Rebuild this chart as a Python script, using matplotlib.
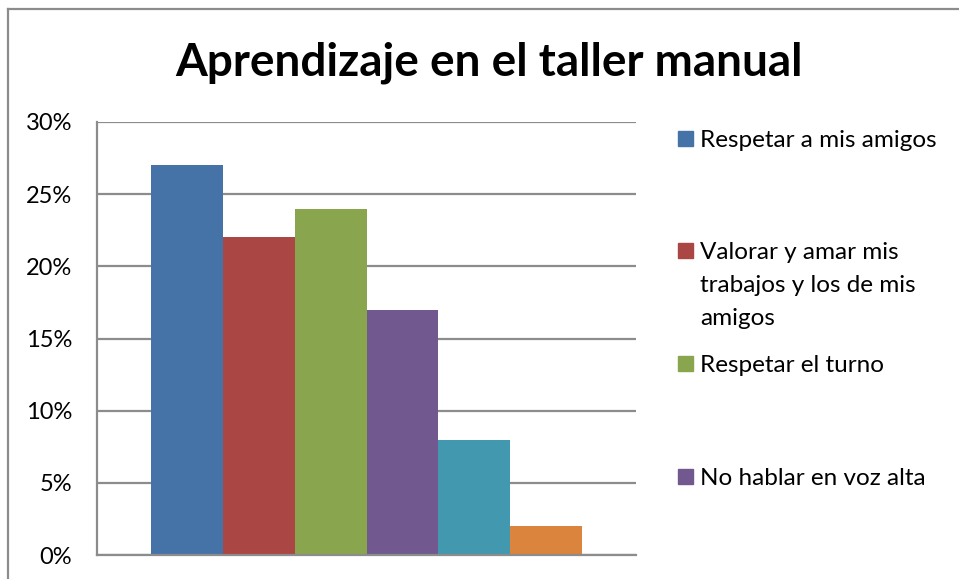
import matplotlib.pyplot as plt
from matplotlib.patches import Rectangle
from matplotlib.lines import Line2D

plt.rcParams['font.family'] = ['Lato', 'DejaVu Sans']

title = 'Aprendizaje en el taller manual'
values = [0.27, 0.22, 0.24, 0.17, 0.08, 0.02]
colors = ['#4572A7', '#AA4643', '#89A54E', '#71588F', '#4198AF', '#DB843D']
# only the first four legend entries fit in the original chart
labels = ['Respetar a mis amigos',
          'Valorar y amar mis\ntrabajos y los de mis\namigos',
          'Respetar el turno',
          'No hablar en voz alta']
yticks = [0, 0.05, 0.10, 0.15, 0.20, 0.25, 0.30]

W, H = 959, 579
fig = plt.figure(figsize=(W / 100, H / 100), dpi=100)
ax = fig.add_axes([97 / W, 1 - 555 / H, 539 / W, 433 / H])

x = range(len(values))
ax.bar(x, values, width=1.0, color=colors, zorder=2)
ax.set_xlim(-1.25, 6.25)
ax.set_ylim(0, 0.30)
ax.set_yticks(yticks)
ax.set_yticklabels(['%d%%' % round(v * 100) for v in yticks], fontsize=17)
ax.set_xticks([])
ax.tick_params(axis='y', length=0, pad=18)
ax.grid(axis='y', color='#8c8c8c', linewidth=1.6, zorder=0)
for s in ['top', 'right']:
    ax.spines[s].set_visible(False)
for s in ['left', 'bottom']:
    ax.spines[s].set_color('#8c8c8c')
    ax.spines[s].set_linewidth(1.6)

fig.text(489 / W, 1 - 76 / H, title, fontsize=33, fontweight='bold',
         ha='center', va='baseline')

# legend drawn by hand, Excel spaces entries evenly
starts = [138, 250, 363, 476]
for lab, col, yc in zip(labels, colors, starts):
    fig.patches.append(Rectangle((678 / W, 1 - (yc + 7.5) / H), 15 / W, 15 / H,
                                 transform=fig.transFigure, color=col))
    for i, line in enumerate(lab.split('\n')):
        fig.text(700 / W, 1 - (yc + 9 + 33 * i) / H, line, fontsize=17.5,
                 ha='left', va='baseline')

# outer chart border (partly cropped)
fig.lines.append(Line2D([8 / W, 8 / W], [0, 1 - 9 / H], transform=fig.transFigure,
                        color='#8c8c8c', linewidth=1.6))
fig.lines.append(Line2D([8 / W, 1], [1 - 9 / H, 1 - 9 / H], transform=fig.transFigure,
                        color='#8c8c8c', linewidth=1.6))

fig.savefig('out.png', dpi=100)
